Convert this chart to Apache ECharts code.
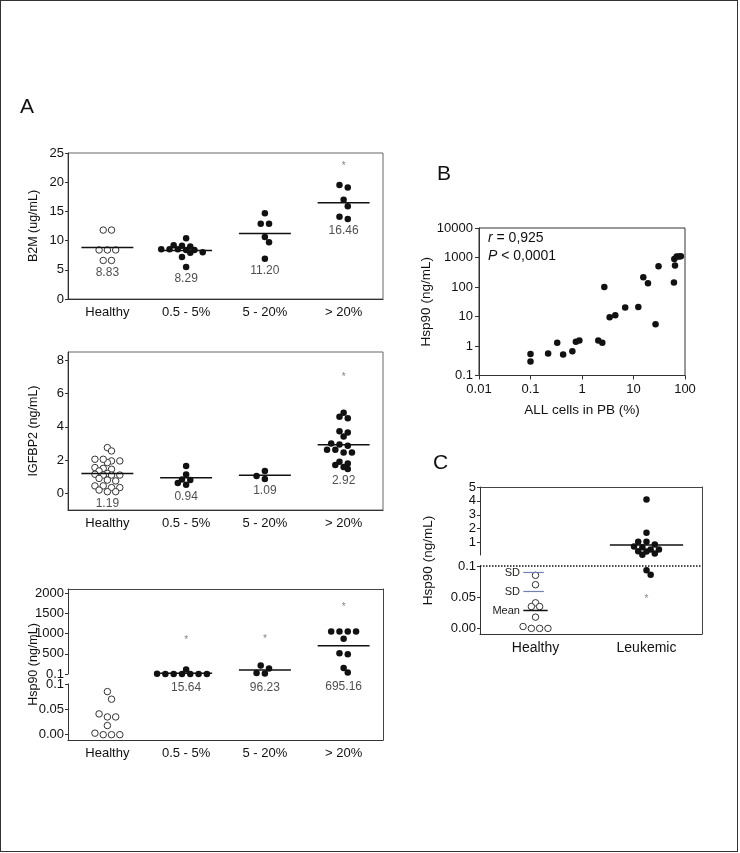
<!DOCTYPE html>
<html lang="en">
<head>
<meta charset="UTF-8">
<title>Hsp90 / B2M / IGFBP2</title>
<script src="https://cdn.jsdelivr.net/npm/echarts@6/dist/echarts.min.js"></script>
<style>
  html, body { margin: 0; padding: 0; background: #fff; }
  #main { width: 740px; height: 853px; }
  #frame { position: absolute; left: 0; top: 0; width: 738px; height: 852px;
           border: 1px solid #333; box-sizing: border-box; pointer-events: none; }
</style>
</head>
<body>
<div id="main"></div>
<div id="frame"></div>
<script>
var FONT = '"Liberation Sans", Arial, sans-serif';

// ---------- data ----------
var catsA = ['Healthy', '0.5 - 5%', '5 - 20%', '> 20%'];
var catsC = ['Healthy', 'Leukemic'];

var b2mHealthy = [11.8, 11.8, 8.4, 8.4, 8.4, 6.6, 6.6];
var b2mLow = [10.4, 9.2, 9.1, 9.0, 8.5, 8.5, 8.5, 8.4, 8.4, 8.0, 7.9, 7.2, 5.5];
var b2mMid = [14.7, 12.9, 12.9, 10.6, 9.7, 6.9];
var b2mHigh = [19.5, 19.1, 17.0, 15.9, 14.1, 13.7];
var b2mMeans = [8.83, 8.29, 11.20, 16.46];
var b2mStars = [null, null, null, 22.8];
var b2mTicks = [0, 5, 10, 15, 20, 25];

var igfHealthy = [2.75, 2.55, 2.05, 1.95, 1.85, 1.95, 2.05, 1.55, 1.5, 1.45, 1.35, 1.2, 1.15,
                  1.1, 1.1, 1.1, 0.9, 0.8, 0.75, 0.45, 0.45, 0.35, 0.35, 0.2, 0.1, 0.1];
var igfLow = [1.64, 1.14, 0.84, 0.8, 0.62, 0.52];
var igfMid = [1.34, 1.04, 0.86];
var igfHigh = [4.84, 4.6, 4.52, 3.74, 3.66, 3.42, 3.0, 2.94, 2.86, 2.62, 2.62, 2.46, 2.46,
               1.9, 1.8, 1.7, 1.58, 1.46];
var igfMeans = [1.19, 0.94, 1.09, 2.92];
var igfStars = [null, null, null, 7.0];
var igfTicks = [0, 2, 4, 6, 8];

var hspHealthy = [0.085, 0.07, 0.041, 0.035, 0.035, 0.018, 0, 0, 0, 0.003];
var hspLow = [3, 1, 2, 4, 2, 1, 3, 109];
var hspMid = [213, 135, 22, 15];
var hspHigh = [1050, 1050, 1050, 1050, 870, 510, 490, 150, 35];
var hspMeans = [null, 15.64, 96.23, 695.16];
var hspStars = [null, 830, 860, 1640];
var hspUpTicks = [0.1, 500, 1000, 1500, 2000];
var hspLoTicks = [0, 0.05, 0.1];

// panel B: ALL cells in PB (%) vs Hsp90 (ng/mL)
var pbCells = [0.1, 0.1, 0.22, 0.33, 0.43, 0.65, 0.76, 0.89, 2.07, 2.48, 2.71, 3.44, 4.43,
               6.9, 12.4, 15.5, 19.1, 26.8, 30.6, 61, 64, 62, 69, 76, 83];
var pbHsp = [0.54, 0.30, 0.56, 1.29, 0.52, 0.66, 1.39, 1.55, 1.55, 1.29, 100, 9.5, 11,
             20, 21, 214, 134, 5.5, 505, 141, 540, 890, 1080, 1090, 1100];

// panel C
var cHealthy = [0.085, 0.07, 0.041, 0.035, 0.035, 0.018, 0, 0, 0, 0.003];
var cLeukemic = [4.1, 1.7, 1.05, 0.85, 1.05, 0.71, 0.66, 0.49, 0.37, 0.49, 0.2, 0.12, 0.35, 0.086, 0.093];
var cStars = [null, 0.047];
var cUpTicks = [0.1, 1, 2, 3, 4, 5];
var cLoTicks = [0, 0.05, 0.1];
var sdText = ['SD', 'SD', 'Mean'];

// ---------- axes ----------
var chart = echarts.init(document.getElementById('main'));

function catAxis(grid, cats, fs, margin) {
  return {
    type: 'category', gridIndex: grid, data: cats,
    axisLine: { onZero: false, lineStyle: { color: '#333' } },
    axisTick: { alignWithLabel: true, length: 4, lineStyle: { color: '#333' } },
    axisLabel: { interval: 0, color: '#111', fontSize: fs, fontFamily: FONT, margin: margin },
    splitLine: { show: false }
  };
}
function hiddenX(grid, n) {
  return { type: 'value', gridIndex: grid, min: -0.5, max: n - 0.5, show: false,
           axisLine: { onZero: false } };
}
function valY(grid, min, max, ticks, fmt) {
  return {
    type: 'value', gridIndex: grid, min: min, max: max,
    axisLine: { show: true, onZero: false, lineStyle: { color: '#333' } },
    axisTick: { show: true, length: 3, customValues: ticks, lineStyle: { color: '#333' } },
    axisLabel: { customValues: ticks, formatter: fmt, color: '#111', fontSize: 13, fontFamily: FONT, margin: 4 },
    splitLine: { show: false }
  };
}
function nameOpt(ax, name, gap, fs) {
  ax.name = name;
  ax.nameLocation = 'middle';
  ax.nameGap = gap;
  ax.nameTextStyle = { color: '#111', fontSize: fs, fontFamily: FONT };
  return ax;
}
function frameX(grid) {
  return { type: 'value', gridIndex: grid, min: 0, max: 1, position: 'top',
    axisLine: { show: true, onZero: false, lineStyle: { color: '#444' } }, axisTick: { show: false },
    axisLabel: { show: false }, splitLine: { show: false } };
}
function frameY(grid, pos, line) {
  return { type: 'value', gridIndex: grid, min: 0, max: 1, position: pos,
    axisLine: { show: line, onZero: false, lineStyle: { color: '#444' } }, axisTick: { show: false },
    axisLabel: { show: false }, splitLine: { show: false } };
}
var fmtUp = function (v) { return v === 0.1 ? '0.1' : String(v); };
var fmtLo = function (v) { return v === 0.1 ? '0.1' : v.toFixed(2); };

var grids = [
  { left: 68, top: 153, width: 315, height: 146, show: true, borderColor: '#666' },   // 0 A1
  { left: 68, top: 352, width: 315, height: 158, show: true, borderColor: '#666' },   // 1 A2
  { left: 68, top: 589, width: 315, height: 85 },                                     // 2 A3 upper
  { left: 68, top: 684, width: 315, height: 56 },                                     // 3 A3 lower
  { left: 68, top: 589, width: 315, height: 151 },                                    // 4 A3 frame
  { left: 479, top: 228, width: 206, height: 147.5, show: true, borderColor: '#333' },// 5 B
  { left: 480, top: 487, width: 222, height: 68 },                                    // 6 C upper
  { left: 480, top: 566, width: 222, height: 68 },                                    // 7 C lower
  { left: 480, top: 487, width: 222, height: 147 }                                    // 8 C frame
];

var xAxes = [
  catAxis(0, catsA, 13, 7), hiddenX(0, 4),
  catAxis(1, catsA, 13, 7), hiddenX(1, 4),
  hiddenX(2, 4),
  catAxis(3, catsA, 13, 7), hiddenX(3, 4),
  frameX(4),
  nameOpt({
    type: 'log', gridIndex: 5, logBase: 10, min: 0.01, max: 100,
    axisLine: { onZero: false, lineStyle: { color: '#333' } },
    axisTick: { length: 4, lineStyle: { color: '#333' } },
    axisLabel: { color: '#111', fontSize: 13, fontFamily: FONT, margin: 7,
      formatter: function (v) { return String(+v.toPrecision(3)); } },
    splitLine: { show: false }, minorTick: { show: false }
  }, 'ALL cells in PB (%)', 28, 13.5),
  hiddenX(6, 2),
  catAxis(7, catsC, 14, 7), hiddenX(7, 2),
  frameX(8)
];

var yAxes = [
  nameOpt(valY(0, 0, 25, b2mTicks, function (v) { return String(v); }), 'B2M (ug/mL)', 28, 12.5),
  nameOpt(valY(1, -1, 8.5, igfTicks, function (v) { return String(v); }), 'IGFBP2 (ng/mL)', 28, 12.5),
  valY(2, 0.1, 2100, hspUpTicks, fmtUp),
  valY(3, -0.0105, 0.1, hspLoTicks, fmtLo),
  nameOpt(frameY(4, 'left', false), 'Hsp90 (ng/mL)', 28, 12.5),
  frameY(4, 'right', true),
  nameOpt({
    type: 'log', gridIndex: 5, logBase: 10, min: 0.1, max: 10000,
    axisLine: { show: true, onZero: false, lineStyle: { color: '#333' } },
    axisTick: { show: true, length: 4, lineStyle: { color: '#333' } },
    axisLabel: { color: '#111', fontSize: 13, fontFamily: FONT, margin: 6,
      formatter: function (v) { return String(+v.toPrecision(3)); } },
    splitLine: { show: false }, minorTick: { show: false }
  }, 'Hsp90 (ng/mL)', 45, 13.5),
  valY(6, 0.1, 5, cUpTicks, fmtUp),
  valY(7, -0.009, 0.1, cLoTicks, fmtLo),
  nameOpt(frameY(8, 'left', false), 'Hsp90 (ng/mL)', 45, 13.5),
  frameY(8, 'right', true)
];

chart.setOption({
  animation: false,
  grid: grids,
  xAxis: xAxes,
  yAxis: yAxes,
  graphic: [
    { type: 'text', left: 20, top: 97, style: { text: 'A', fontSize: 21, fontFamily: FONT, fill: '#111' } },
    { type: 'text', left: 437, top: 164, style: { text: 'B', fontSize: 21, fontFamily: FONT, fill: '#111' } },
    { type: 'text', left: 433, top: 453, style: { text: 'C', fontSize: 21, fontFamily: FONT, fill: '#111' } },
    { type: 'text', left: 488, top: 231, style: { text: '{i|r} = 0,925', fontSize: 14, fontFamily: FONT, fill: '#111',
        rich: { i: { fontStyle: 'italic', fontSize: 14, fontFamily: FONT, fill: '#111' } } } },
    { type: 'text', left: 488, top: 249, style: { text: '{i|P} < 0,0001', fontSize: 14, fontFamily: FONT, fill: '#111',
        rich: { i: { fontStyle: 'italic', fontSize: 14, fontFamily: FONT, fill: '#111' } } } }
  ]
});

// ---------- beeswarm layout (pixel space) ----------
var DOT = 6.5, GAP = 8.3;

function swarm(ys, d) {
  var idx = ys.map(function (_, k) { return k; }).sort(function (a, b) { return ys[a] - ys[b]; });
  var rows = [], cur = null;
  idx.forEach(function (k) {
    if (!cur || ys[k] - ys[cur[0]] > d * 0.4) { cur = [k]; rows.push(cur); }
    else cur.push(k);
  });
  var off = new Array(ys.length), placed = [];
  rows.forEach(function (row) {
    var n = row.length, best = null, bestScore = -1;
    [0, d / 2, -d / 2].forEach(function (s) {
      var xs = row.map(function (_, j) { return (j - (n - 1) / 2) * d + s; });
      var minD = Infinity;
      row.forEach(function (k, j) {
        placed.forEach(function (p) {
          var dx = xs[j] - p[0], dy = ys[k] - p[1];
          minD = Math.min(minD, Math.sqrt(dx * dx + dy * dy));
        });
      });
      var score = Math.min(minD, d);
      if (score > bestScore + 0.01) { bestScore = score; best = xs; }
    });
    row.forEach(function (k, j) { off[k] = best[j]; placed.push([best[j], ys[k]]); });
  });
  return off;
}

function band(xi) {
  return chart.convertToPixel({ xAxisIndex: xi }, 1) - chart.convertToPixel({ xAxisIndex: xi }, 0);
}

// one group may span two grids: axisFor(v) -> [xi, yi]
function groupData(vals, i, axisFor) {
  var ys = vals.map(function (v) { return chart.convertToPixel({ yAxisIndex: axisFor(v)[1] }, v); });
  var off = swarm(ys, GAP);
  var out = {};
  vals.forEach(function (v, k) {
    var ax = axisFor(v), key = ax.join('_');
    if (!out[key]) out[key] = { ax: ax, data: [] };
    out[key].data.push([i + off[k] / band(ax[0]), v]);
  });
  return Object.keys(out).map(function (k) { return out[k]; });
}

var series = [];
function dots(vals, i, axisFor, open) {
  groupData(vals, i, axisFor).forEach(function (g) {
    series.push({
      type: 'scatter', xAxisIndex: g.ax[0], yAxisIndex: g.ax[1], data: g.data,
      symbol: 'circle', symbolSize: DOT, silent: true, z: 4,
      itemStyle: open ? { color: '#fff', borderColor: '#333', borderWidth: 1, opacity: 1 }
                      : { color: '#111', opacity: 1 }
    });
  });
}
function meanLines(xi, yi, means, half) {
  var d = [];
  means.forEach(function (m, i) { if (m != null) d.push([i, m]); });
  series.push({
    type: 'custom', xAxisIndex: xi, yAxisIndex: yi, data: d, silent: true, z: 5,
    renderItem: function (params, api) {
      var i = api.value(0), m = api.value(1);
      var a = api.coord([i - half, m]), b = api.coord([i + half, m]);
      return { type: 'line', shape: { x1: a[0], y1: a[1], x2: b[0], y2: b[1] },
               style: { stroke: '#111', lineWidth: 1.5 } };
    }
  });
}
function meanLabels(xi, yi, groups, means, dist) {
  var d = [];
  groups.forEach(function (g, i) {
    if (means[i] != null) d.push([i, Math.min.apply(null, g), means[i]]);
  });
  series.push({
    type: 'scatter', xAxisIndex: xi, yAxisIndex: yi, data: d, symbolSize: 0, silent: true,
    itemStyle: { color: 'rgba(0,0,0,0)' },
    label: { show: true, position: 'bottom', distance: dist, color: '#222', fontSize: 12, fontFamily: FONT,
             formatter: function (p) { return p.value[2].toFixed(2); } }
  });
}
function stars(xi, yi, vals) {
  var d = [];
  vals.forEach(function (v, i) { if (v != null) d.push([i, v]); });
  series.push({
    type: 'scatter', xAxisIndex: xi, yAxisIndex: yi, data: d, symbolSize: 0, silent: true,
    itemStyle: { color: 'rgba(0,0,0,0)' },
    label: { show: true, position: 'inside', formatter: '*', color: '#666', fontSize: 10, fontFamily: FONT }
  });
}

// A1 B2M
var b2mGroups = [b2mHealthy, b2mLow, b2mMid, b2mHigh];
b2mGroups.forEach(function (g, i) { dots(g, i, function () { return [1, 0]; }, i === 0); });
meanLines(1, 0, b2mMeans, 0.33);
meanLabels(1, 0, b2mGroups, b2mMeans, 6);
stars(1, 0, b2mStars);

// A2 IGFBP2
var igfGroups = [igfHealthy, igfLow, igfMid, igfHigh];
igfGroups.forEach(function (g, i) { dots(g, i, function () { return [3, 1]; }, i === 0); });
meanLines(3, 1, igfMeans, 0.33);
meanLabels(3, 1, igfGroups, igfMeans, 6);
stars(3, 1, igfStars);

// A3 Hsp90 (broken axis)
var hspAxis = function (v) { return v >= 0.1 ? [4, 2] : [6, 3]; };
var hspGroups = [hspHealthy, hspLow, hspMid, hspHigh];
hspGroups.forEach(function (g, i) { dots(g, i, hspAxis, i === 0); });
meanLines(4, 2, hspMeans, 0.33);
meanLabels(4, 2, hspGroups, hspMeans, 8);
stars(4, 2, hspStars);

// B scatter
series.push({
  type: 'scatter', xAxisIndex: 8, yAxisIndex: 6, symbolSize: DOT, silent: true,
  itemStyle: { color: '#111', opacity: 1 },
  data: pbCells.map(function (x, k) { return [x, pbHsp[k]]; })
});

// C Healthy vs Leukemic
var cAxis = function (v) { return v >= 0.1 ? [9, 7] : [11, 8]; };
dots(cHealthy, 0, cAxis, true);
dots(cLeukemic, 1, cAxis, false);

var cMean = cHealthy.reduce(function (a, b) { return a + b; }, 0) / cHealthy.length;
var cSd = Math.sqrt(cHealthy.reduce(function (a, b) { return a + (b - cMean) * (b - cMean); }, 0) / (cHealthy.length - 1));
var lMean = cLeukemic.reduce(function (a, b) { return a + b; }, 0) / cLeukemic.length;
meanLines(9, 7, [null, lMean], 0.33);
stars(11, 8, cStars);

series.push({
  type: 'custom', xAxisIndex: 11, yAxisIndex: 8, silent: true, z: 5,
  data: [[0, cMean + 2 * cSd, 0], [0, cMean + cSd, 1], [0, cMean, 2]],
  renderItem: function (params, api) {
    var v = api.value(1), kind = api.value(2);
    var a = api.coord([-0.11, v]), b = api.coord([kind === 2 ? 0.11 : 0.075, v]), t = api.coord([-0.14, v]);
    return { type: 'group', children: [
      { type: 'line', shape: { x1: a[0], y1: a[1], x2: b[0], y2: b[1] },
        style: { stroke: kind === 2 ? '#111' : '#7380b2', lineWidth: kind === 2 ? 1.5 : 1.2 } },
      { type: 'text', style: { text: sdText[kind], x: t[0], y: t[1], align: 'right', verticalAlign: 'middle',
        fontSize: 11, fontFamily: FONT, fill: '#222' } }
    ] };
  },
  markLine: {
    silent: true, symbol: 'none', label: { show: false },
    lineStyle: { type: 'dotted', color: '#111', width: 1.5 },
    data: [{ yAxis: 0.1 }]
  }
});

chart.setOption({ series: series });
window.addEventListener('resize', function () { chart.resize(); });
</script>
</body>
</html>
